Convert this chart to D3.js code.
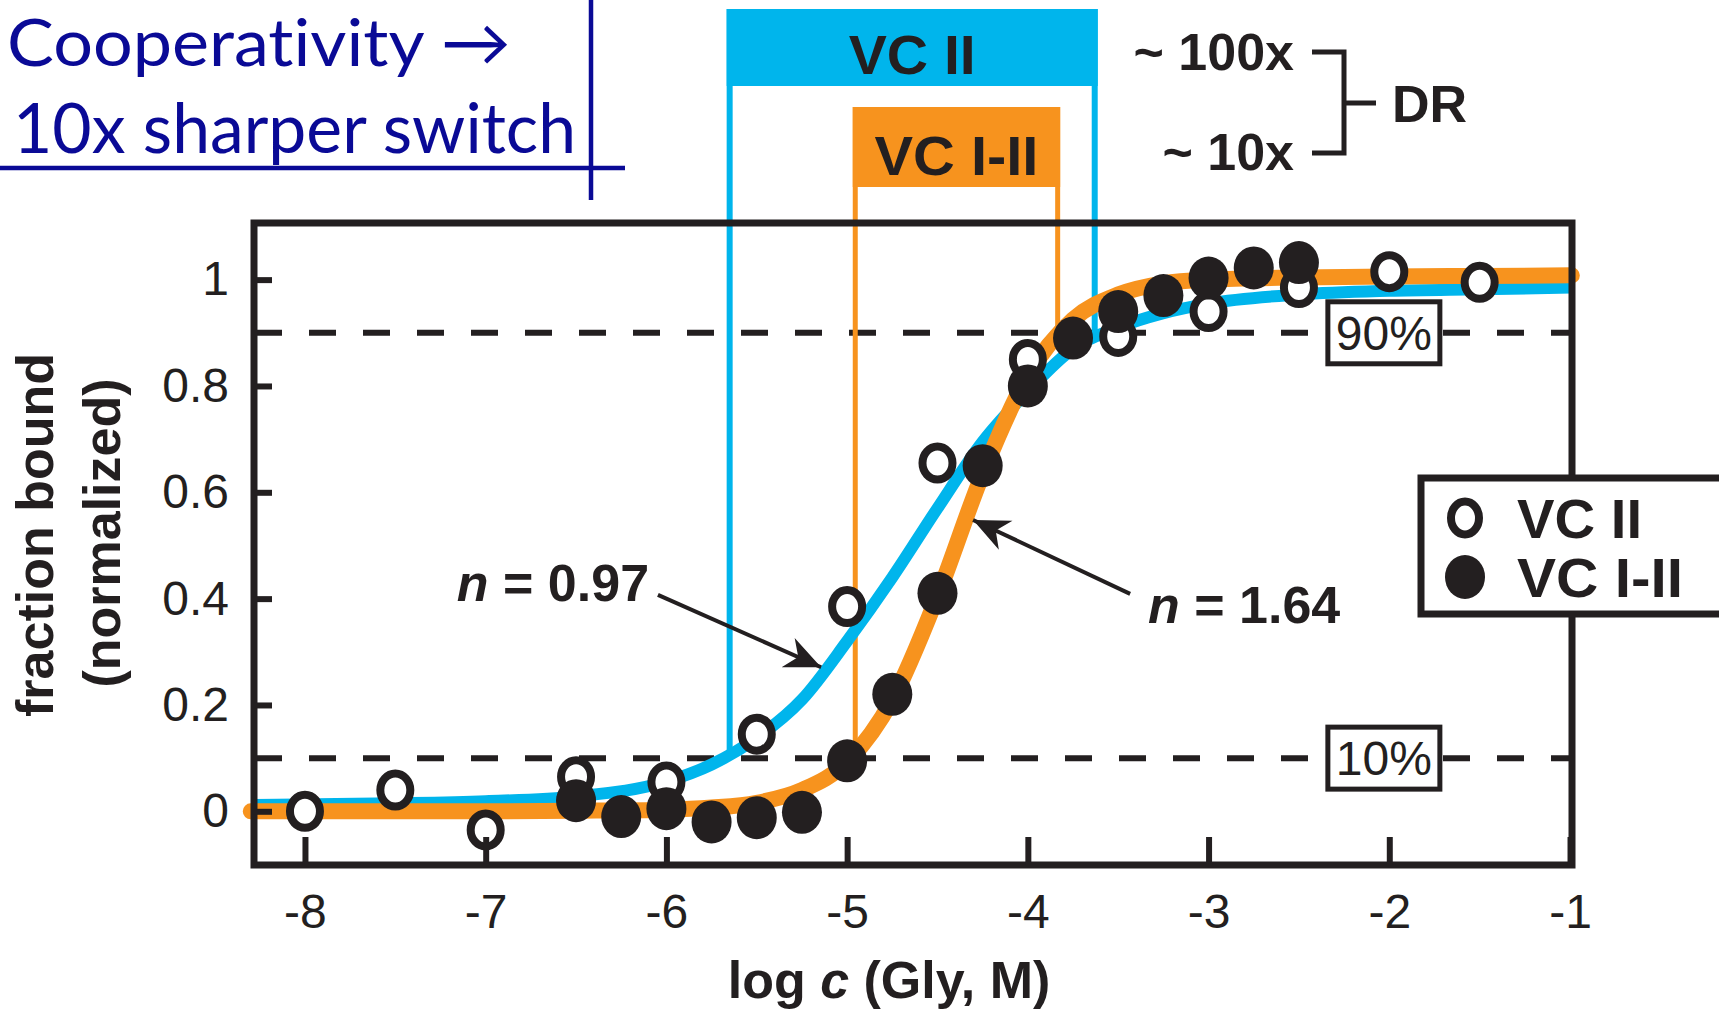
<!DOCTYPE html>
<html>
<head>
<meta charset="utf-8">
<script src="https://cdn.jsdelivr.net/npm/d3@7"></script>
<style>
    body { margin: 0; background: #fff; }
    svg { display: block; font-family: "Liberation Sans", Arial, sans-serif; }
    .caption { font-variant-ligatures: none; }
</style>
</head>
<body>
<div id="chart"></div>
<script>
// VC II (open circles)
const vcIIx = [-8, -7.5, -7, -6.5, -6, -5.5, -5, -4.5, -4, -3.5, -3, -2.5, -2, -1.5];
const vcIIy = [0.00, 0.04, -0.035, 0.065, 0.055, 0.145, 0.385, 0.655, 0.85, 0.893, 0.94, 0.985, 1.015, 0.995];

// VC I-II (filled circles)
const vcI_IIx = [-6.5, -6.25, -6, -5.75, -5.5, -5.25, -5, -4.75, -4.5, -4.25, -4, -3.75, -3.5, -3.25, -3, -2.75, -2.5];
const vcI_IIy = [0.02, -0.01, 0.005, -0.02, -0.012, -0.002, 0.095, 0.22, 0.41, 0.65, 0.80, 0.89, 0.94, 0.97, 1.003, 1.022, 1.032];

// fitted curves
const fitIIx = [-8.28, -7.5, -7, -6.5, -6, -5.75, -5.5, -5.25, -5, -4.75, -4.5, -4.25, -4, -3.75, -3.5, -3.25, -3, -2.5, -2, -1.5, -0.99];
const fitIIy = [0.012, 0.015, 0.019, 0.028, 0.056, 0.088, 0.138, 0.21, 0.32, 0.44, 0.57, 0.695, 0.79, 0.87, 0.91, 0.937, 0.955, 0.972, 0.979, 0.982, 0.985];
const fitI_IIx = [-8.3, -7, -6.5, -6, -5.75, -5.5, -5.25, -5, -4.75, -4.5, -4.25, -4, -3.75, -3.5, -3.25, -3, -2.5, -2, -1.5, -0.99];
const fitI_IIy = [0.0, 0.0, 0.001, 0.003, 0.007, 0.016, 0.04, 0.093, 0.21, 0.405, 0.635, 0.82, 0.925, 0.972, 0.993, 1.0, 1.004, 1.006, 1.007, 1.008];

// 10% - 90% dynamic range of each construct (log c)
const rangeII = [-5.65, -3.63];
const rangeI_II = [-4.955, -3.835];

const xTicks = [-8, -7, -6, -5, -4, -3, -2, -1];
const yTicks = [0, 0.2, 0.4, 0.6, 0.8, 1];
const refLevels = [0.1, 0.9];
const refLabels = ["10%", "90%"];

const blue = "#00b5ec", orange = "#f7931e", ink = "#231f20", navy = "#0a0a96";

const W = 1719, H = 1011;
const plot = {left: 254, right: 1572, top: 223, bottom: 865};

const svg = d3.select("#chart").append("svg")
    .attr("width", W)
    .attr("height", H);

const x = d3.scaleLinear().domain([-8.282, -0.989]).range([plot.left, plot.right]);
const y = d3.scaleLinear().domain([-0.101, 1.1065]).range([plot.bottom, plot.top]);

// dashed 10% / 90% lines
svg.selectAll(".ref")
    .data(refLevels)
    .enter().append("line")
    .attr("class", "ref")
    .attr("x1", plot.left + 1).attr("x2", plot.right)
    .attr("y1", d => y(d)).attr("y2", d => y(d))
    .attr("stroke", ink).attr("stroke-width", 6)
    .attr("stroke-dasharray", "27,27");

// range brackets on top: header + vertical lines down to 10% / 90%
function rangeBox(r, color, lw, top, hh, label, tl) {
    let x0 = x(r[0]), x1 = x(r[1]);
    svg.append("line")
        .attr("x1", x0).attr("x2", x0).attr("y1", top).attr("y2", y(0.1))
        .attr("stroke", color).attr("stroke-width", lw);
    svg.append("line")
        .attr("x1", x1).attr("x2", x1).attr("y1", top).attr("y2", y(0.9))
        .attr("stroke", color).attr("stroke-width", lw);
    svg.append("rect")
        .attr("x", x0 - lw / 2).attr("y", top)
        .attr("width", x1 - x0 + lw).attr("height", hh)
        .attr("fill", color);
    svg.append("text")
        .attr("x", (x0 + x1) / 2).attr("y", top + hh - 12)
        .attr("text-anchor", "middle")
        .attr("font-size", 56).attr("font-weight", "bold")
        .attr("fill", ink)
        .attr("textLength", tl).attr("lengthAdjust", "spacingAndGlyphs")
        .text(label);
}
rangeBox(rangeII, blue, 6, 9, 77, "VC II", 127);
rangeBox(rangeI_II, orange, 5, 107, 80, "VC I-II", 164);

// fitted curves
const line = d3.line()
    .x(d => x(d[0]))
    .y(d => y(d[1]))
    .curve(d3.curveMonotoneX);

svg.append("path")
    .datum(d3.zip(fitIIx, fitIIy))
    .attr("d", line)
    .attr("fill", "none").attr("stroke", blue).attr("stroke-width", 12);

svg.append("path")
    .datum(d3.zip(fitI_IIx, fitI_IIy))
    .attr("d", line)
    .attr("fill", "none").attr("stroke", orange).attr("stroke-width", 16)
    .attr("stroke-linecap", "round");

// data points
svg.selectAll(".open")
    .data(d3.zip(vcIIx, vcIIy))
    .enter().append("ellipse")
    .attr("class", "open")
    .attr("cx", d => x(d[0])).attr("cy", d => y(d[1]))
    .attr("rx", 15).attr("ry", 16.5)
    .attr("fill", "#fff").attr("stroke", ink).attr("stroke-width", 8);

svg.selectAll(".filled")
    .data(d3.zip(vcI_IIx, vcI_IIy))
    .enter().append("ellipse")
    .attr("class", "filled")
    .attr("cx", d => x(d[0])).attr("cy", d => y(d[1]))
    .attr("rx", 20).attr("ry", 21.5)
    .attr("fill", ink);

// frame
svg.append("rect")
    .attr("x", plot.left).attr("y", plot.top)
    .attr("width", plot.right - plot.left).attr("height", plot.bottom - plot.top)
    .attr("fill", "none").attr("stroke", ink).attr("stroke-width", 7);

// axes with inward ticks
const xAxis = d3.axisBottom(x)
    .tickValues(xTicks)
    .tickFormat(d => String(d))
    .tickSizeInner(-28).tickSizeOuter(0).tickPadding(29);
const yAxis = d3.axisLeft(y)
    .tickValues(yTicks)
    .tickFormat(d => String(d))
    .tickSizeInner(-18).tickSizeOuter(0).tickPadding(25);

const gx = svg.append("g")
    .attr("transform", "translate(0," + plot.bottom + ")")
    .call(xAxis);
const gy = svg.append("g")
    .attr("transform", "translate(" + plot.left + ",0)")
    .call(yAxis);

[gx, gy].forEach(g => {
    g.select(".domain").remove();
    g.selectAll("line").attr("stroke", ink).attr("stroke-width", 6);
    g.selectAll("text")
        .attr("fill", ink)
        .attr("font-size", 48)
        .attr("font-family", "Liberation Sans, Arial, sans-serif");
});

// 10% / 90% boxes
const refBox = svg.selectAll(".refbox")
    .data(refLevels)
    .enter().append("g")
    .attr("class", "refbox")
    .attr("transform", d => "translate(" + x(-2.03) + "," + y(d) + ")");
refBox.append("rect")
    .attr("x", -56).attr("y", -31)
    .attr("width", 112).attr("height", 62)
    .attr("fill", "#fff").attr("stroke", ink).attr("stroke-width", 5);
refBox.append("text")
    .attr("text-anchor", "middle").attr("y", 17)
    .attr("font-size", 48).attr("fill", ink)
    .text((d, i) => refLabels[i]);

// legend
const legend = svg.append("g");
legend.append("rect")
    .attr("x", 1421).attr("y", 478)
    .attr("width", 320).attr("height", 136)
    .attr("fill", "#fff").attr("stroke", ink).attr("stroke-width", 7);
legend.append("ellipse")
    .attr("cx", 1465).attr("cy", 518).attr("rx", 14).attr("ry", 16.5)
    .attr("fill", "#fff").attr("stroke", ink).attr("stroke-width", 8);
legend.append("ellipse")
    .attr("cx", 1465).attr("cy", 577).attr("rx", 20).attr("ry", 22)
    .attr("fill", ink);
legend.append("text")
    .attr("x", 1517).attr("y", 538)
    .attr("font-size", 56).attr("font-weight", "bold").attr("fill", ink)
    .attr("textLength", 125).attr("lengthAdjust", "spacingAndGlyphs")
    .text("VC II");
legend.append("text")
    .attr("x", 1517).attr("y", 597)
    .attr("font-size", 56).attr("font-weight", "bold").attr("fill", ink)
    .attr("textLength", 166).attr("lengthAdjust", "spacingAndGlyphs")
    .text("VC I-II");

// arrows for the Hill coefficients
svg.append("defs").append("marker")
    .attr("id", "head")
    .attr("markerUnits", "userSpaceOnUse")
    .attr("viewBox", "-36 -17 38 34")
    .attr("markerWidth", 38).attr("markerHeight", 34)
    .attr("refX", 0).attr("refY", 0)
    .attr("orient", "auto")
    .append("path")
    .attr("d", "M0,0 L-36,-16 L-25,0 L-36,16 Z")
    .attr("fill", ink);

function arrow(from, to) {
    svg.append("line")
        .attr("x1", x(from[0])).attr("y1", y(from[1]))
        .attr("x2", x(to[0])).attr("y2", y(to[1]))
        .attr("stroke", ink).attr("stroke-width", 4)
        .attr("marker-end", "url(#head)");
}
arrow([-6.047, 0.407], [-5.144, 0.271]);
arrow([-3.434, 0.409], [-4.303, 0.548]);

function hill(px, py, anchor, val) {
    let t = svg.append("text")
        .attr("x", x(px)).attr("y", y(py))
        .attr("text-anchor", anchor)
        .attr("font-size", 52).attr("font-weight", "bold").attr("fill", ink);
    t.append("tspan").attr("font-style", "italic").text("n");
    t.append("tspan").text(" = " + val);
}
hill(-6.096, 0.395, "end", "0.97");
hill(-3.335, 0.354, "start", "1.64");

// dynamic range bracket
svg.append("text").attr("x", 1294).attr("y", 70).attr("text-anchor", "end")
    .attr("font-size", 52).attr("font-weight", "bold").attr("fill", ink).text("~ 100x");
svg.append("text").attr("x", 1294).attr("y", 170).attr("text-anchor", "end")
    .attr("font-size", 52).attr("font-weight", "bold").attr("fill", ink).text("~ 10x");
svg.append("path")
    .attr("d", "M1312,52 H1344 V153 H1312 M1344,103 H1376")
    .attr("fill", "none").attr("stroke", ink).attr("stroke-width", 5);
svg.append("text").attr("x", 1392).attr("y", 122)
    .attr("font-size", 52).attr("font-weight", "bold").attr("fill", ink).text("DR");

// axis titles
const xt = svg.append("text")
    .attr("x", 889).attr("y", 998)
    .attr("text-anchor", "middle")
    .attr("font-size", 52).attr("font-weight", "bold").attr("fill", ink);
xt.append("tspan").text("log ");
xt.append("tspan").attr("font-style", "italic").text("c");
xt.append("tspan").text(" (Gly, M)");

svg.append("text")
    .attr("transform", "translate(53,535) rotate(-90)")
    .attr("text-anchor", "middle")
    .attr("font-size", 52).attr("font-weight", "bold").attr("fill", ink)
    .text("fraction bound");
svg.append("text")
    .attr("transform", "translate(120,533) rotate(-90)")
    .attr("text-anchor", "middle")
    .attr("font-size", 52).attr("font-weight", "bold").attr("fill", ink)
    .text("(normalized)");

// slide caption, top left
svg.append("line")
    .attr("x1", 0).attr("x2", 625).attr("y1", 168).attr("y2", 168)
    .attr("stroke", navy).attr("stroke-width", 4.5);
svg.append("line")
    .attr("x1", 591).attr("x2", 591).attr("y1", 0).attr("y2", 200)
    .attr("stroke", navy).attr("stroke-width", 4.5);
svg.append("text")
    .attr("class", "caption")
    .attr("x", 7).attr("y", 66)
    .attr("font-family", "Lato, 'Open Sans', sans-serif")
    .attr("font-size", 66).attr("fill", navy)
    .attr("textLength", 504).attr("lengthAdjust", "spacingAndGlyphs")
    .text("Cooperativity \u2192");
svg.append("text")
    .attr("class", "caption")
    .attr("x", 13).attr("y", 153)
    .attr("font-family", "Lato, 'Open Sans', sans-serif")
    .attr("font-size", 70).attr("fill", navy)
    .attr("textLength", 563).attr("lengthAdjust", "spacingAndGlyphs")
    .text("10x sharper switch");
</script>
</body>
</html>
